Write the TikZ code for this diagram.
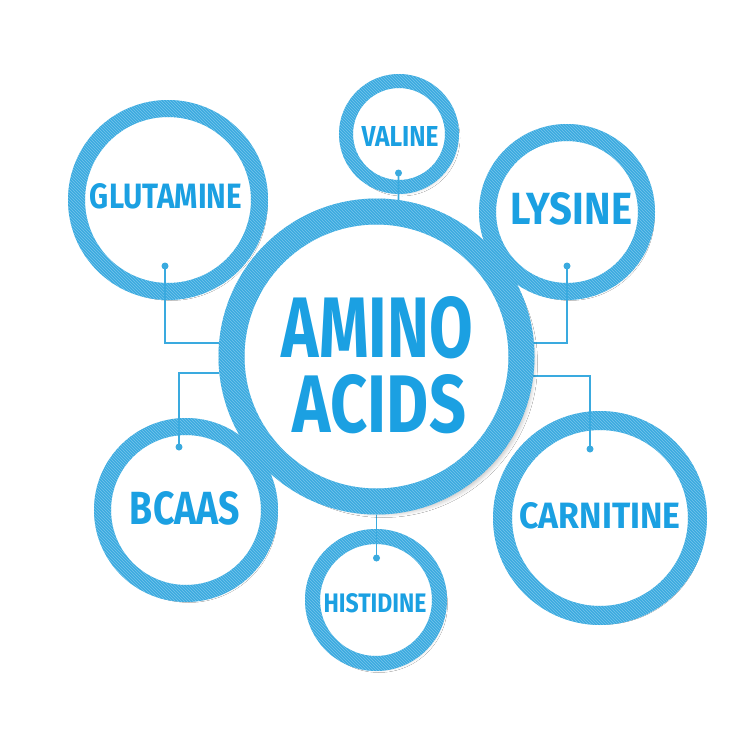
\documentclass[tikz,border=0pt]{standalone}
\usepackage{fontspec}
\setmainfont{Fira Sans}
\usetikzlibrary{shadows.blur,patterns}
\definecolor{ringc}{RGB}{58,170,223}
\definecolor{stripec}{RGB}{120,196,236}
\definecolor{txtc}{RGB}{27,160,226}
\newcommand\lbl[3]{\resizebox{#1pt}{#2pt}{\bfseries #3}}
\newcommand\ringstripes[3]{\path[pattern=north west lines, pattern color=stripec, even odd rule] (#1) circle (#2) circle (#3);}
\begin{document}
\begin{tikzpicture}[x=1pt,y=-1pt,
  ring/.style={circle, draw=ringc, fill=white, inner sep=0pt},
  lab/.style={inner sep=0pt, text=txtc},
  conn/.style={draw=ringc, line width=1.8pt},
  dotn/.style={circle, fill=ringc, inner sep=0pt, minimum size=7pt},
  softshadow/.style={blur shadow={shadow xshift=3pt, shadow yshift=-4pt, shadow opacity=30, shadow blur steps=8, shadow blur radius=5pt}},
  bigshadow/.style={blur shadow={shadow xshift=7pt, shadow yshift=-7pt, shadow opacity=60, shadow blur steps=14, shadow blur radius=9pt}}]
\useasboundingbox[fill=white] (0,0) rectangle (750,750);
% outer circles
\node[ring, softshadow, line width=17pt, minimum size=183pt] (glu) at (168,200) {};
\ringstripes{glu.center}{100}{83}
\node[ring, softshadow, line width=14pt, minimum size=106pt] (val) at (399,134) {};
\ringstripes{val.center}{60}{46}
\node[ring, softshadow, line width=17pt, minimum size=159pt] (lys) at (567,212) {};
\ringstripes{lys.center}{88}{71}
\node[ring, softshadow, line width=17pt, minimum size=167pt] (bca) at (186,510) {};
\ringstripes{bca.center}{92}{75}
\node[ring, softshadow, line width=15pt, minimum size=127pt] (his) at (376,600) {};
\ringstripes{his.center}{71}{56}
\node[ring, softshadow, line width=19pt, minimum size=195pt] (car) at (600,518) {};
\ringstripes{car.center}{107}{88}
% labels
\node[lab] (tglu) at (166,196) {\lbl{152}{25}{GLUTAMINE}};
\node[lab] (tval) at (400,136) {\lbl{77}{20}{VALINE}};
\node[lab] (tlys) at (571,209) {\lbl{122}{32}{LYSINE}};
\node[lab] (tbca) at (185,508) {\lbl{110}{33}{BCAAS}};
\node[lab] (tcar) at (600,516) {\lbl{161}{26}{CARNITINE}};
\node[lab] (this) at (375,603) {\lbl{103}{19}{HISTIDINE}};
% central circle (node only for anchors first)
\node[ring, draw=none, fill=none, line width=26pt, minimum size=290pt] (amino) at (376.5,356.5) {};
% dots
\node[dotn] (gludot) at (165,266) {};
\node[dotn] (valdot) at (398.5,173) {};
\node[dotn] (lysdot) at (567,266) {};
\node[dotn] (bcadot) at (179,447) {};
\node[dotn] (hisdot) at (376.5,558) {};
\node[dotn] (cardot) at (590,449) {};
% connectors
\draw[conn] (gludot.center) |- (amino.175);
\draw[conn] (amino.186) -| (bcadot.center);
\draw[conn] (valdot.center) -- (amino.82);
\draw[conn] (lysdot.center) |- (amino.5);
\draw[conn] (amino.353) -| (cardot.center);
\draw[conn] (amino.south) -- (hisdot.center);
% central circle drawn on top
\node[ring, bigshadow, line width=26pt, minimum size=290pt] (aminoring) at (amino.center) {};
\ringstripes{aminoring.center}{158}{132}
\node[lab] (tamino) at (377.5,327.5) {\lbl{191}{61}{AMINO}};
\node[lab] (tacids) at (379.5,404) {\lbl{173}{58}{ACIDS}};
\end{tikzpicture}
\end{document}
